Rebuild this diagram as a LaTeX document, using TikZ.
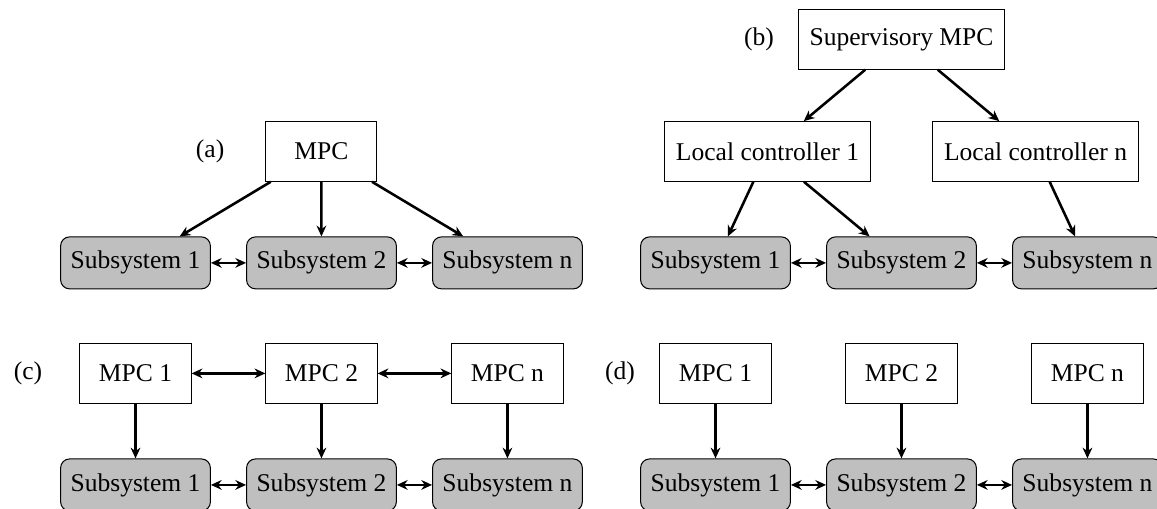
\documentclass[tikz,border=0pt]{standalone}
\usepackage{fontspec}
\setmainfont{Liberation Serif}
\usetikzlibrary{arrows.meta}

\begin{document}
\begin{tikzpicture}[
    ctrl/.style={draw, inner xsep=4.5pt, minimum width=1.53cm, minimum height=0.82cm},
    plant/.style={draw, fill=lightgray, rounded corners=3.5pt, minimum width=2.06cm, minimum height=0.715cm},
    flow/.style={-{Stealth[length=4.2pt, width=3.8pt]}, line width=1pt},
    both/.style={{Stealth[length=4.2pt, width=3.8pt]}-{Stealth[length=4.2pt, width=3.8pt]}, line width=1pt}
]
\useasboundingbox (0,0) rectangle (15.915,7.0);

% (a) centralised
\node (laba) at (2.89,4.917) {(a)};
\node[ctrl] (mpca) at (4.42,4.917) {MPC};
\foreach \i/\t in {0/1,1/2,2/n} {
    \node[plant] (sa\i) at (1.864+2.558*\i,3.384) {Subsystem \t};
    \draw[flow] (mpca) -- (sa\i);
}
\draw[both] (sa0) -- (sa1);
\draw[both] (sa1) -- (sa2);

% (b) hierarchical
\node (labb) at (10.44,6.458) {(b)};
\node[ctrl] (sup) at (12.4,6.458) {Supervisory MPC};
\node[ctrl] (lc1) at (10.557,4.917) {Local controller 1};
\node[ctrl] (lcn) at (14.244,4.917) {Local controller n};
\foreach \i/\t in {0/1,1/2,2/n}
    \node[plant] (sb\i) at (9.842+2.558*\i,3.384) {Subsystem \t};
\draw[flow] (sup) -- (lc1);
\draw[flow] (sup) -- (lcn);
\draw[flow] (lc1) -- (sb0);
\draw[flow] (lc1) -- (sb1);
\draw[flow] (lcn) -- (sb2);
\draw[both] (sb0) -- (sb1);
\draw[both] (sb1) -- (sb2);

% (c) distributed and (d) decentralised
\node (labc) at (0.385,1.864) {(c)};
\node (labd) at (8.528,1.864) {(d)};
\foreach \p/\dx in {c/0,d/7.978} {
    \foreach \i/\t in {0/1,1/2,2/n} {
        \node[ctrl] (m\p\i) at (1.864+2.558*\i+\dx,1.864) {MPC \t};
        \node[plant] (s\p\i) at (1.864+2.558*\i+\dx,0.33) {Subsystem \t};
        \draw[flow] (m\p\i) -- (s\p\i);
    }
    \draw[both] (s\p0) -- (s\p1);
    \draw[both] (s\p1) -- (s\p2);
}
\draw[both] (mc0) -- (mc1);
\draw[both] (mc1) -- (mc2);
\end{tikzpicture}
\end{document}
